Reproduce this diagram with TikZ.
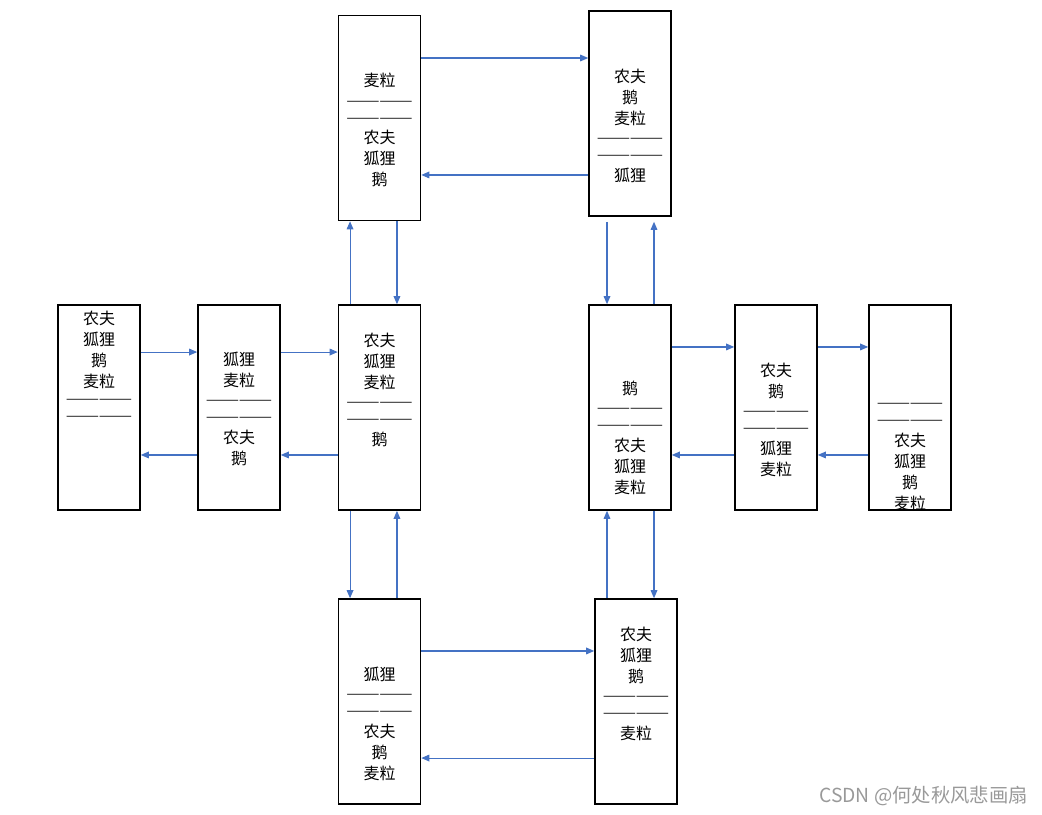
\documentclass[tikz,border=0pt]{standalone}
\usepackage{fontspec}
\setmainfont{Noto Sans CJK SC}
\usetikzlibrary{arrows.meta}
\definecolor{moveblue}{HTML}{4472C4}
\newcommand\sepline{\strut\raisebox{2pt}{\fontsize{10}{10}\selectfont ——————}}
\tikzset{stage/.style={draw=black, line width=1.2pt, minimum width=61.5pt, minimum height=153.75pt, inner sep=0pt},
%text of one bank, lines 15.75pt apart
load/.style={anchor=north, align=center, inner sep=0pt, font=\fontsize{12}{15.75}\selectfont},
move/.style={draw=moveblue, line width=0.8pt, -{Triangle[length=6pt, width=5pt]}}}

\begin{document}
\begin{tikzpicture}[x=0.75pt, y=-0.75pt]
    \useasboundingbox (0,0) rectangle (1042,814);
    \node[stage] (A) at (99,407.5) {};
    \node[stage] (B) at (239,407.5) {};
    \node[stage] (C) at (379.5,407.5) {};
    \node[stage] (D) at (379.5,118) {};
    \node[stage] (E) at (630,113.5) {};
    \node[stage] (F) at (630,407.5) {};
    \node[stage] (G) at (776,407.5) {};
    \node[stage] (H) at (910,407.5) {};
    \node[stage] (I) at (379.5,701.5) {};
    \node[stage] (J) at (636,701.5) {};

    \node[load] (tA) at ([yshift=-4.9pt]A.north) {农夫\\狐狸\\鹅\\麦粒\\[-2pt]\sepline\\[-3pt]\sepline};
    \node[load] (tB) at ([yshift=-35.6pt]B.north) {狐狸\\麦粒\\\sepline\\[-3pt]\sepline\\[-1.5pt]农夫\\鹅};
    \node[load] (tC) at ([yshift=-21.4pt]C.north) {农夫\\狐狸\\麦粒\\\sepline\\[-3pt]\sepline\\[-1.5pt]鹅};
    \node[load] (tD) at ([yshift=-43.9pt]D.north) {麦粒\\\sepline\\[-3pt]\sepline\\[-1.5pt]农夫\\狐狸\\鹅};
    \node[load] (tE) at ([yshift=-43.9pt]E.north) {农夫\\鹅\\麦粒\\\sepline\\[-3pt]\sepline\\[-1.5pt]狐狸};
    \node[load] (tF) at ([yshift=-57.4pt]F.north) {鹅\\\sepline\\[-3pt]\sepline\\[-1.5pt]农夫\\狐狸\\麦粒};
    \node[load] (tG) at ([yshift=-43.9pt]G.north) {农夫\\鹅\\\sepline\\[-3pt]\sepline\\[-1.5pt]狐狸\\麦粒};
    \node[load] (tH) at ([yshift=-68.4pt]H.north) {\sepline\\[-3pt]\sepline\\[-1.5pt]农夫\\狐狸\\鹅\\麦粒};
    \node[load] (tI) at ([yshift=-51.4pt]I.north) {狐狸\\\sepline\\[-3pt]\sepline\\[-1.5pt]农夫\\鹅\\麦粒};
    \node[load] (tJ) at ([yshift=-21.4pt]J.north) {农夫\\狐狸\\鹅\\\sepline\\[-3pt]\sepline\\[-1.5pt]麦粒};

    \draw[move] ([yshift=41.6pt]A.east) -- ([yshift=41.6pt]A.east -| B.west);
    \draw[move] ([yshift=-35.6pt]B.west) -- ([yshift=-35.6pt]B.west -| A.east);
    \draw[move] ([yshift=41.6pt]B.east) -- ([yshift=41.6pt]B.east -| C.west);
    \draw[move] ([yshift=-35.6pt]C.west) -- ([yshift=-35.6pt]C.west -| B.east);
    \draw[move] ([xshift=-22.1pt]C.north) -- ([xshift=-22.1pt]C.north |- D.south);
    \draw[move] ([xshift=13.1pt]D.south) -- ([xshift=13.1pt]D.south |- C.north);
    \draw[move] ([yshift=45pt]D.east) -- ([yshift=45pt]D.east -| E.west);
    \draw[move] ([yshift=-46.1pt]E.west) -- ([yshift=-46.1pt]E.west -| D.east);
    \draw[move] ([xshift=-17.25pt,yshift=-3.75pt]E.south) -- ([xshift=-17.25pt]E.south |- F.north);
    \draw[move] ([xshift=18pt]F.north) -- ([xshift=18pt,yshift=-3.75pt]F.north |- E.south);
    \draw[move] ([yshift=45.4pt]F.east) -- ([yshift=45.4pt]F.east -| G.west);
    \draw[move] ([yshift=-35.6pt]G.west) -- ([yshift=-35.6pt]G.west -| F.east);
    \draw[move] ([yshift=45.4pt]G.east) -- ([yshift=45.4pt]G.east -| H.west);
    \draw[move] ([yshift=-35.6pt]H.west) -- ([yshift=-35.6pt]H.west -| G.east);
    \draw[move] ([xshift=-22.1pt]C.south) -- ([xshift=-22.1pt]C.south |- I.north);
    \draw[move] ([xshift=13.1pt]I.north) -- ([xshift=13.1pt]I.north |- C.south);
    \draw[move] ([yshift=37.9pt]I.east) -- ([yshift=37.9pt]I.east -| J.west);
    \draw[move] ([yshift=-42.4pt]J.west) -- ([yshift=-42.4pt]J.west -| I.east);
    \draw[move] ([xshift=-17.25pt]F.south |- J.north) -- ([xshift=-17.25pt]F.south);
    \draw[move] ([xshift=18pt]F.south) -- ([xshift=18pt]F.south |- J.north);

    \node[anchor=east, inner sep=0pt, text=black!40, font=\fontsize{14.5}{16}\selectfont] (mark) at (1028,796) {CSDN @何处秋风悲画扇};
\end{tikzpicture}
\end{document}
